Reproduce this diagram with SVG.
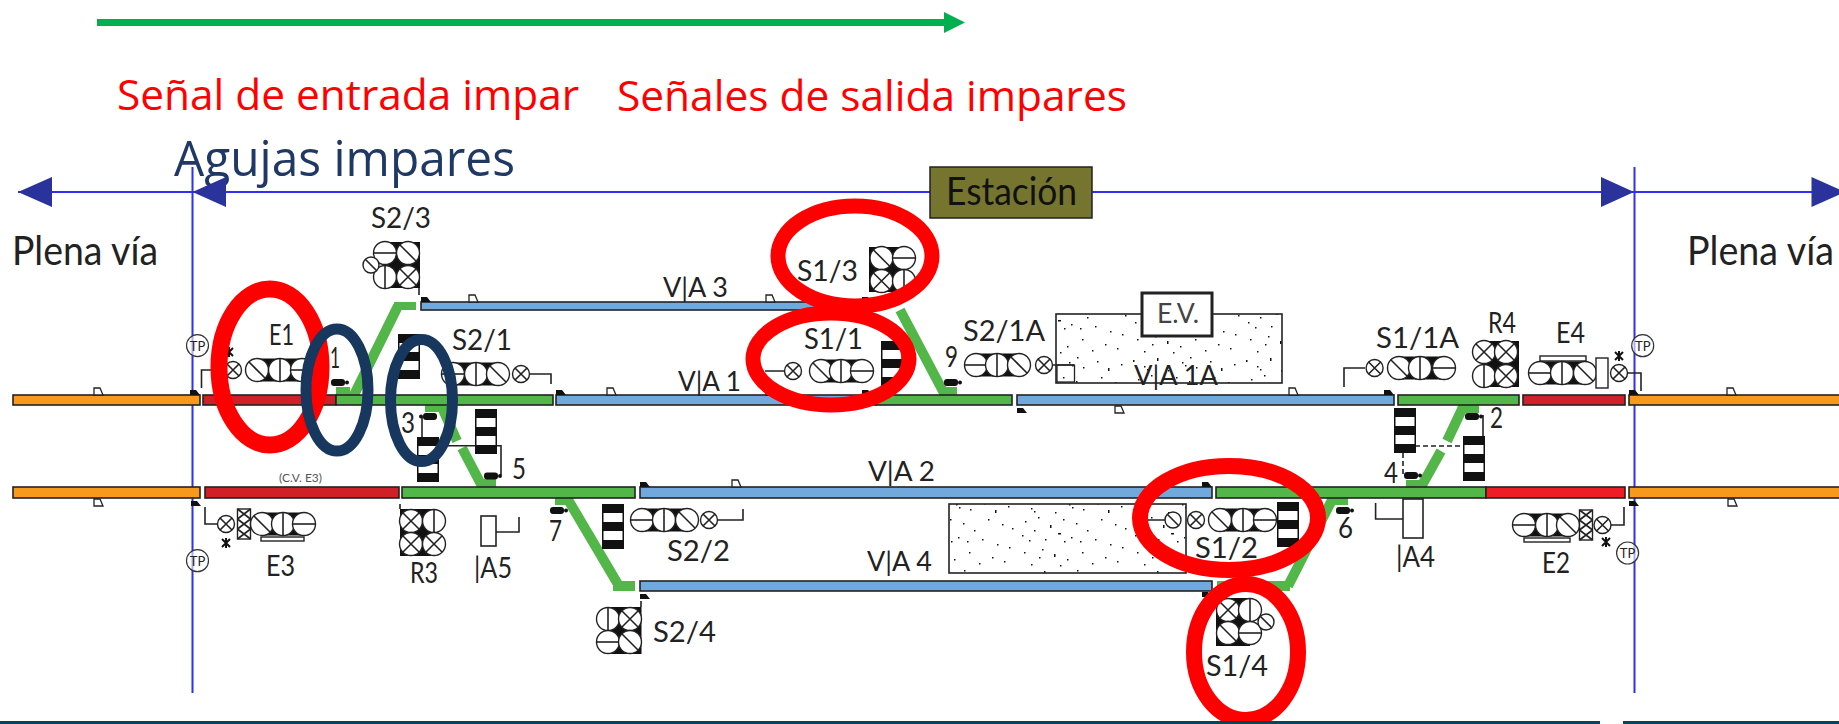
<svg xmlns="http://www.w3.org/2000/svg" width="1839" height="724" viewBox="0 0 1839 724">
<style>
.t{font-family:"Lato","Open Sans","Liberation Sans",sans-serif;fill:#222;font-size:29px;font-weight:400}
.a{font-family:"Open Sans","Noto Sans",sans-serif;font-size:42px;fill:#f00}
.tr{stroke:#222;stroke-width:1.6}
.or{fill:#f7991c}.re{fill:#cf1f27}.gr{fill:#52b748}.bl{fill:#72a9dd}
.dg{stroke:#52b748;stroke-width:10;fill:none}
.gl{fill:#52b748;stroke:none}
.ln{fill:none;stroke:#222;stroke-width:1.6}
.c{fill:#fff;stroke:#222;stroke-width:1.4}
.k{fill:#111}
.r{fill:none;stroke:#f00}
.n{fill:none;stroke:#17375e}
.b{stroke:#2f2ff5;stroke-width:2;fill:none}
.ar{fill:#2a339c}
</style>
<defs>
<g id="ah"><circle class="c" r="11.5"/><path class="ln" d="M-11.5 0H11.5"/></g>
<g id="av"><circle class="c" r="11.5"/><path class="ln" d="M0-11.5V11.5"/></g>
<g id="ad"><circle class="c" r="11.5"/><path class="ln" d="M-8-8L8 8"/></g>
<g id="ax"><circle class="c" r="11.5"/><path class="ln" d="M-8-8L8 8M8-8L-8 8"/></g>
<g id="lx"><circle class="c" r="8.5"/><path class="ln" d="M-6-6L6 6M6-6L-6 6"/></g>
<g id="ld"><circle class="c" r="8"/><path class="ln" d="M-5.5-5.5L5.5 5.5"/></g>
<g id="lad"><rect class="k" width="22" height="45"/><rect fill="#fff" x="1.500" y="9" width="19" height="9"/><rect fill="#fff" x="1.500" y="27" width="19" height="9"/></g>
<g id="mach"><rect class="k" width="14" height="7" rx="3"/><circle class="k" cx="16" cy="3.500" r="2"/></g>
<path id="mk" class="k" d="M0 8V3H6L10 8Z"/>
<path id="fl" d="M1 8V1H7L10 8Z" fill="#fff" stroke="#222" stroke-width="1.300"/>
<g id="tp"><circle fill="#fff" fill-opacity=".6" stroke="#333" stroke-width="1.200" r="11"/><text class="t" style="font-size:13px;font-weight:400" x="0" y="5" text-anchor="middle">TP</text></g>
<path id="st" class="k" d="M-4-4L4 4M4-4L-4 4M0-5V5" stroke="#111" stroke-width="2"/>
<g id="bar"><rect class="c" x="-6" y="-15" width="12" height="30" stroke="#777"/></g>
<g id="bb"><rect class="c" x="-6.500" y="-15" width="13" height="30"/><path class="ln" d="M-6.500-15L6.500-5M6.500-15L-6.500-5M-6.500-5L6.500 5M6.500-5L-6.500 5M-6.500 5L6.500 15M6.500 5L-6.500 15"/></g>
<pattern id="dots" width="113" height="71" patternUnits="userSpaceOnUse">
<path fill="#111" d="M3 5h1.500v2h-1.500zM14 11h1.500v1.500h-1.500zM17 14h1.500v1.500h-1.500zM27 3h1.500v3h-1.500zM38 15h1.500v1.500h-1.500zM52 7h1.500v1.500h-1.500zM55 10h1.500v1.500h-1.500zM66 12h1.500v1.500h-1.500zM8 24h1.500v1.500h-1.500zM21 20h1.500v1.500h-1.500zM33 28h1.500v3h-1.500zM46 22h1.500v1.500h-1.500zM59 26h1.500v1.500h-1.500zM70 33h1.500v1.500h-1.500zM5 38h1.500v1.500h-1.500zM17 33h1.500v1.500h-1.500zM28 42h1.500v1.500h-1.500zM41 36h3v1.500h-3zM54 40h1.500v1.500h-1.500zM63 44h1.500v1.500h-1.500zM12 43h1.500v1.500h-1.500zM47 44h1.500v1.500h-1.500zM60 2h1.500v1.500h-1.500zM80 6h1.500v1.500h-1.500zM91 13h1.500v3h-1.500zM104 9h1.500v1.500h-1.500zM84 22h1.500v1.500h-1.500zM98 27h1.500v1.500h-1.500zM108 31h1.500v1.500h-1.500zM78 42h1.500v1.500h-1.500zM93 47h1.500v1.500h-1.500zM105 50h1.500v1.500h-1.500zM7 55h1.500v1.500h-1.500zM22 60h1.500v1.500h-1.500zM25 52h1.500v1.500h-1.500zM37 57h1.500v3h-1.500zM50 62h1.500v1.500h-1.500zM65 55h1.500v1.500h-1.500zM75 66h1.500v1.500h-1.500zM88 60h1.500v1.500h-1.500zM100 64h1.500v1.500h-1.500zM14 67h1.500v1.500h-1.500zM43 68h1.500v1.500h-1.500z"/>
</pattern>
</defs>

<g id="top-arrow"><path d="M97 22.500H946" stroke="#00b050" stroke-width="7" fill="none"/><path d="M944 12L965 22.500L944 33Z" fill="#00b050"/></g>
<g id="labels-annot">
<text class="a" x="117" y="110" textLength="462" lengthAdjust="spacingAndGlyphs">Señal de entrada impar</text>
<text class="a" x="617" y="110.500" textLength="510" lengthAdjust="spacingAndGlyphs">Señales de salida impares</text>
<text class="a" x="174" y="176" textLength="341" lengthAdjust="spacingAndGlyphs" style="fill:#1f3864;font-size:50px">Agujas impares</text>
</g>

<g id="extent">
<path class="b" d="M18 192H1839M192.500 167V693M1634.500 167V693"/>
<path class="ar" d="M18 192L52 177V207ZM192.500 192L226 177V207ZM1634 192L1601 177V207ZM1845 192L1811.500 177V207Z"/>
</g>
<g id="estacion"><rect x="930" y="167" width="162" height="51" fill="#757530" stroke="#222" stroke-width="1.500"/><text class="t" x="946" y="205" textLength="131" lengthAdjust="spacingAndGlyphs" style="font-size:38px;fill:#111;font-weight:400">Estación</text></g>
<text class="t" transform="translate(12 265) scale(1 1.120)" textLength="146" lengthAdjust="spacingAndGlyphs" style="font-size:36px">Plena vía</text>
<text class="t" transform="translate(1687 265) scale(1 1.120)" textLength="147" lengthAdjust="spacingAndGlyphs" style="font-size:36px">Plena vía</text>

<g id="platforms">
<rect x="1056" y="314" width="226" height="69" fill="url(#dots)" stroke="#222" stroke-width="1.600"/>
<rect x="1057" y="365" width="17.500" height="17" fill="none" stroke="#222" stroke-width="1.300"/>
<rect x="1142" y="293" width="70" height="43" fill="#fff" stroke="#222" stroke-width="3"/>
<text class="t" x="1157" y="323" textLength="42" lengthAdjust="spacingAndGlyphs" style="font-size:26px;fill:#444;font-weight:400">E.V.</text>
<rect x="949" y="504" width="237" height="69" fill="url(#dots)" stroke="#222" stroke-width="1.600"/>
</g>

<g id="connectors">
<path class="dg" d="M353 397L398 306M900 310L945 395M440 403L457 441M462 448L483 488M567 498L619 586M1464 405L1447 441M1441 451L1421 487M1333 498L1288 586"/>
<g class="gl">
<path d="M336 387H350V395H336ZM943 387H957V395H943ZM479 479H496V487H479ZM555 498H572V505H555ZM1327 498H1348V505H1327ZM1406 480H1420V487H1406ZM1461 405H1479V413H1461ZM425 405H443V412H425Z"/>
</g>
<rect class="tr or" x="13" y="395" width="187" height="10"/>
<rect class="tr re" x="203" y="395" width="133" height="10"/>
<rect class="tr gr" x="336" y="395" width="217" height="10"/>
<rect class="tr bl" x="556" y="395" width="320" height="10"/>
<rect class="tr gr" x="876" y="395" width="136" height="10"/>
<rect class="tr bl" x="1017" y="395" width="377" height="10"/>
<rect class="tr gr" x="1398" y="395" width="121" height="10"/>
<rect class="tr re" x="1523" y="395" width="102" height="10" style="fill:#d0202a"/>
<rect class="tr or" x="1629" y="395" width="215" height="10"/>
<rect class="tr bl" x="421" y="302" width="455" height="8"/>
<rect class="gl" x="394" y="302" width="22" height="8"/>
<rect class="tr or" x="13" y="487" width="187" height="11"/>
<rect class="tr re" x="205" y="487" width="194" height="11"/>
<rect class="tr gr" x="402" y="487" width="233" height="11"/>
<rect class="tr bl" x="640" y="487" width="572" height="11"/>
<rect class="tr gr" x="1216" y="487" width="270" height="11"/>
<rect class="tr" x="1486" y="487" width="139" height="11" style="fill:#ee1c25"/>
<rect class="tr or" x="1629" y="487" width="215" height="11"/>
<rect class="tr bl" x="640" y="581" width="572" height="10"/>
<rect class="gl" x="613" y="581" width="22" height="10"/>
<rect class="gl" x="1217" y="581" width="73" height="10"/>
<path class="ln" d="M201.500 388V370H225M530 374H551V384M419 288V295M641 601V607M422 417V437M439 445.700H501V475M205 507V524H218M743 509V520H718M1053 365H1074M1148 520H1165M1344 387V368H1365M1611 525H1624V507M1628 373H1641V391M1483 415V437M400 504V509M765 371H784M496 532H519V517M1375.600 503V519H1403"/>
<path class="ln" stroke-dasharray="5 3" d="M1415 446H1463M1403 453V475"/>
<use href="#mk" x="190" y="387"/><use href="#fl" x="93" y="387"/>
<use href="#mk" x="421" y="294"/><use href="#fl" x="468" y="294"/>
<use href="#mk" x="556" y="387"/><use href="#fl" x="606" y="387"/>
<use href="#mk" x="862" y="294"/><use href="#fl" x="765" y="294"/>
<use href="#mk" x="862" y="387"/><use href="#fl" x="765" y="387"/>
<use href="#mk" x="1017" y="405"/><use href="#fl" x="1114" y="405"/><use href="#fl" x="1288" y="387"/>
<use href="#mk" x="1384" y="387"/><use href="#mk" x="1629" y="387"/><use href="#fl" x="1726" y="387"/>
<use href="#mk" x="191" y="498"/><use href="#fl" x="93" y="498"/>
<use href="#mk" x="640" y="479"/><use href="#fl" x="731" y="479"/><use href="#mk" x="1202" y="479"/>
<use href="#mk" x="640" y="591"/><use href="#mk" x="1202" y="589"/>
<use href="#mk" x="1629" y="498"/><use href="#fl" x="1727" y="498"/>
</g>

<g id="via-labels">
<text class="t" x="663" y="297" textLength="65" lengthAdjust="spacingAndGlyphs" style="font-size:27px">V|A 3</text>
<text class="t" x="678" y="391" textLength="63" lengthAdjust="spacingAndGlyphs" style="font-size:27px">V|A 1</text>
<text class="t" x="1134" y="385" textLength="84" lengthAdjust="spacingAndGlyphs" style="font-size:27px">V|A 1A</text>
<text class="t" x="868" y="481" textLength="67" lengthAdjust="spacingAndGlyphs" style="font-size:27px">V|A 2</text>
<text class="t" x="867" y="571" textLength="65" lengthAdjust="spacingAndGlyphs" style="font-size:27px">V|A 4</text>
<text class="t" x="279" y="482" textLength="43" lengthAdjust="spacingAndGlyphs" style="font-size:12px;fill:#555;font-weight:400">(C.V. E3)</text>
</g>

<g id="E1"><text class="t" x="269" y="345" textLength="25" lengthAdjust="spacingAndGlyphs">E1</text><rect class="k" x="257" y="358.500" width="45" height="23"/><use href="#ad" x="257" y="370"/><use href="#av" x="280" y="370"/><use href="#ah" x="302" y="370"/><use href="#lx" x="233" y="370"/><use href="#st" x="229" y="352"/><use href="#tp" x="197.500" y="345.600"/></g>
<g id="S2-3"><text class="t" x="371" y="228" textLength="60" lengthAdjust="spacingAndGlyphs">S2/3</text><rect class="k" x="385" y="242" width="35" height="46"/><use href="#ah" x="385" y="253"/><use href="#ad" x="408" y="253"/><use href="#av" x="385" y="277"/><use href="#ax" x="408" y="277"/><use href="#ld" x="371" y="265"/></g>
<g id="S2-1"><text class="t" x="452" y="350" textLength="60" lengthAdjust="spacingAndGlyphs">S2/1</text><use href="#lad" x="398" y="334"/><rect class="k" x="453" y="362.500" width="45" height="23"/><use href="#ah" x="453" y="374"/><use href="#av" x="476" y="374"/><use href="#ad" x="498" y="374"/><use href="#lx" x="521" y="374"/></g>
<g id="sw1"><text class="t" x="330" y="368" textLength="10" lengthAdjust="spacingAndGlyphs">1</text><use href="#mach" x="331" y="379"/></g>
<g id="sw3"><text class="t" x="401" y="433" textLength="14" lengthAdjust="spacingAndGlyphs">3</text><g transform="translate(437 413) scale(-1 1)"><use href="#mach"/></g><use href="#lad" x="417" y="437"/></g>
<g id="sw5"><use href="#lad" x="475" y="409"/><use href="#mach" x="484" y="472.500"/><text class="t" x="512" y="479" textLength="14" lengthAdjust="spacingAndGlyphs">5</text></g>
<g id="sw7"><use href="#mach" x="550" y="507"/><text class="t" x="549" y="541" textLength="13" lengthAdjust="spacingAndGlyphs">7</text></g>
<g id="R3"><rect class="k" x="400" y="509" width="34" height="47"/><use href="#ax" x="411" y="521"/><use href="#av" x="434" y="521"/><use href="#ax" x="411" y="544"/><use href="#ax" x="434" y="544"/><text class="t" x="410" y="583" textLength="28" lengthAdjust="spacingAndGlyphs">R3</text></g>
<g id="A5"><rect x="481" y="516" width="15" height="30" fill="#fff" stroke="#222" stroke-width="1.600"/><text class="t" x="474" y="578" textLength="38" lengthAdjust="spacingAndGlyphs">|A5</text></g>
<g id="S2-2"><use href="#lad" x="602" y="504"/><rect class="k" x="642" y="508.500" width="45" height="23"/><use href="#ah" x="642" y="520"/><use href="#av" x="664" y="520"/><use href="#ad" x="687" y="520"/><use href="#lx" x="709" y="520"/><text class="t" x="667" y="561" textLength="63" lengthAdjust="spacingAndGlyphs">S2/2</text></g>
<g id="S2-4"><rect class="k" x="608" y="607" width="33.500" height="47"/><use href="#av" x="608" y="619"/><use href="#ax" x="630" y="619"/><use href="#ah" x="608" y="642"/><use href="#ad" x="630" y="642"/><text class="t" x="653" y="642" textLength="63" lengthAdjust="spacingAndGlyphs">S2/4</text></g>
<g id="E3"><use href="#lx" x="226" y="524"/><use href="#bb" x="244" y="524"/><rect class="k" x="262" y="512.500" width="42" height="23"/><use href="#ad" x="262" y="524"/><use href="#av" x="283" y="524"/><use href="#ah" x="304" y="524"/><rect class="c" x="261" y="537" width="43" height="4"/><use href="#st" x="226" y="543"/><use href="#tp" x="197.500" y="560.700"/><text class="t" x="266" y="576" textLength="29" lengthAdjust="spacingAndGlyphs">E3</text></g>
<g id="S1-3"><text class="t" x="797" y="281" textLength="61" lengthAdjust="spacingAndGlyphs">S1/3</text><rect class="k" x="869" y="247" width="35" height="45"/><use href="#ad" x="881.500" y="258"/><use href="#ah" x="904" y="258"/><use href="#ax" x="881.500" y="281"/><use href="#av" x="904" y="281"/></g>
<g id="S1-1"><text class="t" x="804" y="349" textLength="59" lengthAdjust="spacingAndGlyphs">S1/1</text><rect class="k" x="821" y="359.500" width="41" height="23"/><use href="#ad" x="821" y="371"/><use href="#av" x="841" y="371"/><use href="#ah" x="862" y="371"/><use href="#lx" x="793" y="371"/><use href="#lad" x="881" y="341"/></g>
<g id="S2-1A"><text class="t" x="963" y="341" textLength="82" lengthAdjust="spacingAndGlyphs">S2/1A</text><text class="t" x="945" y="367" textLength="13" lengthAdjust="spacingAndGlyphs">9</text><use href="#mach" x="944" y="379"/><rect class="k" x="976" y="353.500" width="43" height="23"/><use href="#ah" x="976" y="365"/><use href="#av" x="997" y="365"/><use href="#ad" x="1019" y="365"/><use href="#lx" x="1044" y="365"/></g>
<g id="S1-2"><text class="t" x="1195" y="558" textLength="63" lengthAdjust="spacingAndGlyphs">S1/2</text><rect class="k" x="1220" y="508.500" width="45" height="23"/><use href="#ld" x="1173" y="520"/><use href="#lx" x="1196" y="520"/><use href="#ad" x="1220" y="520"/><use href="#av" x="1243" y="520"/><use href="#ah" x="1265" y="520"/><use href="#lad" x="1277" y="502"/></g>
<g id="S1-4"><rect class="k" x="1216" y="598" width="34" height="48"/><use href="#ax" x="1228" y="610"/><use href="#av" x="1250" y="610"/><use href="#ad" x="1228" y="633"/><use href="#ah" x="1250" y="633"/><use href="#ld" x="1266" y="622"/><text class="t" x="1206" y="676" textLength="62" lengthAdjust="spacingAndGlyphs">S1/4</text></g>
<g id="sw6"><use href="#mach" x="1336" y="507"/><text class="t" x="1338" y="538" textLength="15" lengthAdjust="spacingAndGlyphs">6</text></g>
<g id="S1-1A"><text class="t" x="1376" y="348" textLength="83" lengthAdjust="spacingAndGlyphs">S1/1A</text><rect class="k" x="1399" y="356.500" width="45" height="23"/><use href="#lx" x="1374.600" y="368"/><use href="#ad" x="1399" y="368"/><use href="#av" x="1420" y="368"/><use href="#ah" x="1444" y="368"/></g>
<g id="R4"><text class="t" x="1488" y="333" textLength="28" lengthAdjust="spacingAndGlyphs">R4</text><rect class="k" x="1484" y="341" width="35" height="46"/><use href="#ax" x="1484" y="352"/><use href="#ax" x="1506" y="352"/><use href="#av" x="1484" y="376"/><use href="#ax" x="1506" y="376"/></g>
<g id="E4"><text class="t" x="1556" y="343" textLength="29" lengthAdjust="spacingAndGlyphs">E4</text><rect class="c" x="1540" y="356" width="46" height="5"/><rect class="k" x="1540" y="361.500" width="45" height="23"/><use href="#ah" x="1540" y="373"/><use href="#av" x="1562" y="373"/><use href="#ad" x="1585" y="373"/><use href="#bar" x="1602" y="373"/><use href="#lx" x="1619" y="373"/><use href="#st" x="1619" y="356"/><use href="#tp" x="1642.700" y="345.700"/></g>
<g id="sw2"><use href="#mach" x="1465" y="413"/><text class="t" x="1490" y="428" textLength="13" lengthAdjust="spacingAndGlyphs">2</text><use href="#lad" x="1463" y="436"/></g>
<g id="sw4"><use href="#lad" x="1394" y="408"/><use href="#mach" x="1404" y="472"/><text class="t" x="1384" y="483" textLength="14" lengthAdjust="spacingAndGlyphs">4</text></g>
<g id="A4"><rect x="1403" y="499" width="20" height="39" fill="#fff" stroke="#222" stroke-width="1.600"/><text class="t" x="1396" y="567" textLength="39" lengthAdjust="spacingAndGlyphs">|A4</text></g>
<g id="E2"><rect class="k" x="1524" y="513.500" width="44" height="23"/><use href="#ah" x="1524" y="525"/><use href="#av" x="1547" y="525"/><use href="#ad" x="1568" y="525"/><rect class="c" x="1524" y="538" width="46" height="4"/><use href="#bb" x="1586" y="525"/><use href="#lx" x="1602.500" y="525"/><use href="#st" x="1606" y="542"/><use href="#tp" x="1627.600" y="553"/><text class="t" x="1542" y="573" textLength="28" lengthAdjust="spacingAndGlyphs">E2</text></g>

<g id="rings" stroke-width="15">
<ellipse class="r" cx="270" cy="367" rx="51" ry="78" stroke-width="17"/>
<ellipse class="r" cx="855" cy="256" rx="77" ry="50"/>
<ellipse class="r" cx="831" cy="359" rx="78" ry="46"/>
<ellipse class="r" cx="1229" cy="518" rx="89" ry="52" stroke-width="16"/>
<ellipse class="r" cx="1246" cy="652" rx="52" ry="68" stroke-width="16"/>
<ellipse class="n" cx="337" cy="390" rx="31" ry="61" stroke-width="11"/>
<ellipse class="n" cx="421.500" cy="400.500" rx="31" ry="61" stroke-width="11"/>
</g>
<g id="bottom-band"><rect x="0" y="721" width="1600" height="3" fill="#06465a"/><rect x="1623" y="721" width="216" height="3" fill="#06465a"/></g>
</svg>
